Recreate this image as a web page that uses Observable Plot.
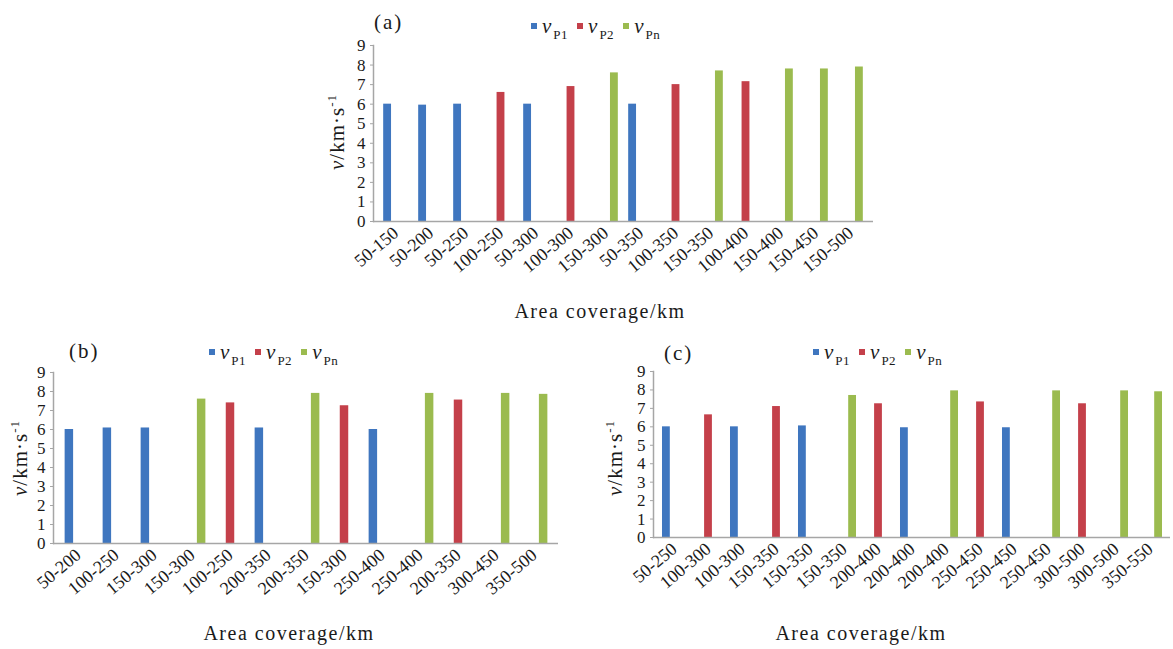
<!DOCTYPE html>
<html>
<head>
<meta charset="utf-8">
<script src="https://cdn.jsdelivr.net/npm/d3@7"></script>
<script src="https://cdn.jsdelivr.net/npm/@observablehq/plot@0.6"></script>
<style>
  html, body { margin: 0; padding: 0; background: #fff; }
  #root { position: relative; width: 1173px; height: 649px; overflow: hidden; background: #fff;
          font-family: "Liberation Serif", "DejaVu Serif", serif; color: #1a1a1a; }
  .abs { position: absolute; white-space: nowrap; line-height: 1; }
  .plot { position: absolute; }
  .plot svg { overflow: visible; }
  .ylab { font-size: 21px; letter-spacing: 1px; transform: translate(-50%, -50%) rotate(-90deg); }
  .xtitle { font-size: 20px; letter-spacing: 1.5px; transform: translate(-50%, -50%); }
  .letter { font-size: 21px; letter-spacing: 2px; }
  .legend { font-size: 21px; }
  .legend .item { display: inline-block; margin-right: 9px; }
  .legend .sw { display: inline-block; width: 6px; height: 6px; margin-right: 5px; vertical-align: 4px; }
  .legend sub { font-size: 13px; font-style: normal; vertical-align: -6px; margin-left: 2px; letter-spacing: 0.5px; }
</style>
</head>
<body>
<div id="root"></div>
<script>
// ---- data ----
const seriesNames = ["P1", "P2", "Pn"];
const seriesColors = ["#3f76bf", "#c4404a", "#9bbb4f"];
const yTicks = [0, 1, 2, 3, 4, 5, 6, 7, 8, 9];

// panel (a)
const aLabels = ["50-150", "50-200", "50-250", "100-250", "50-300", "100-300", "150-300", "50-350", "100-350", "150-350", "100-400", "150-400", "150-450", "150-500"];
const aSeries = ["P1", "P1", "P1", "P2", "P1", "P2", "Pn", "P1", "P2", "Pn", "P2", "Pn", "Pn", "Pn"];
const aValues = [6.0, 5.95, 6.0, 6.6, 6.0, 6.9, 7.6, 6.0, 7.0, 7.7, 7.15, 7.8, 7.8, 7.9];

// panel (b)
const bLabels = ["50-200", "100-250", "150-300", "150-300", "100-250", "200-350", "200-350", "150-300", "250-400", "250-400", "200-350", "300-450", "350-500"];
const bSeries = ["P1", "P1", "P1", "Pn", "P2", "P1", "Pn", "P2", "P1", "Pn", "P2", "Pn", "Pn"];
const bValues = [6.0, 6.08, 6.08, 7.6, 7.4, 6.08, 7.9, 7.25, 6.0, 7.9, 7.55, 7.9, 7.85];

// panel (c)
const cLabels = ["50-250", "100-300", "100-300", "150-350", "150-350", "150-350", "200-400", "200-400", "200-400", "250-450", "250-450", "250-450", "300-500", "300-500", "350-550"];
const cSeries = ["P1", "P2", "P1", "P2", "P1", "Pn", "P2", "P1", "Pn", "P2", "P1", "Pn", "P2", "Pn", "Pn"];
const cValues = [6.0, 6.65, 6.0, 7.1, 6.05, 7.7, 7.25, 5.95, 7.95, 7.35, 5.95, 7.95, 7.25, 7.95, 7.9];

const yLabelHTML = '<i>v</i>/km·s<sup style="font-size:13px">-1</sup>';
const xTitle = "Area coverage/km";

// ---- drawing ----
const root = document.getElementById("root");

function addDiv(cls, html, left, top) {
  const d = document.createElement("div");
  d.className = "abs " + cls;
  d.innerHTML = html;
  d.style.left = left + "px";
  d.style.top = top + "px";
  root.appendChild(d);
  return d;
}

function legendHTML() {
  return seriesNames.map((s, k) =>
    `<span class="item"><span class="sw" style="background:${seriesColors[k]}"></span><i>v</i><sub>${s}</sub></span>`
  ).join("");
}

function panel(cfg) {
  const {labels, series, values, left, top, width, height, mL, mR, mT, mB} = cfg;
  const n = labels.length;
  const data = labels.map((l, i) => ({i, label: l, s: series[i], v: values[i]}));
  const step = (width - mL - mR) / n;
  const bw = step * 0.24;
  const off = step * 0.235;
  const inset = (step - bw) / 2;
  const bars = seriesNames.map((s, k) =>
    Plot.barY(data.filter(d => d.s === s), {
      x: "i", y: "v", fill: seriesColors[k], dx: (k - 1) * off,
      insetLeft: inset, insetRight: inset
    })
  );
  const chart = Plot.plot({
    width, height,
    marginLeft: mL, marginRight: mR, marginTop: mT, marginBottom: mB,
    style: {fontFamily: "'Liberation Serif', serif", fontSize: "17px", color: "#1a1a1a", background: "transparent", overflow: "visible"},
    x: {domain: d3.range(n), padding: 0, axis: null},
    y: {domain: [0, 9], axis: null},
    marks: [
      ...bars,
      Plot.ruleY([0], {stroke: "#a6a6a6", strokeWidth: 1.5}),
      Plot.frame({anchor: "left", stroke: "#a6a6a6", strokeWidth: 1.5}),
      Plot.axisY({ticks: yTicks, tickSize: 3, tickPadding: 5, stroke: "#a6a6a6", fill: "#1a1a1a",
                  fontFamily: "Liberation Serif", fontSize: 17, label: null, tickFormat: d => String(d)}),
      Plot.axisX({tickFormat: i => labels[i], tickRotate: -40, tickSize: 0, tickPadding: 9, fill: "#1a1a1a",
                  fontFamily: "Liberation Serif", fontSize: 18, label: null})
    ]
  });
  const wrap = document.createElement("div");
  wrap.className = "plot";
  wrap.style.left = left + "px";
  wrap.style.top = top + "px";
  wrap.appendChild(chart);
  root.appendChild(wrap);
}

// panel (a)
panel({labels: aLabels, series: aSeries, values: aValues, left: 320, top: 0, width: 570, height: 300, mL: 53, mR: 17, mT: 45, mB: 79});
addDiv("letter", "(a)", 374, 12);
addDiv("legend", legendHTML(), 531, 16);
addDiv("ylab", yLabelHTML, 336, 132);
addDiv("xtitle", xTitle, 600, 311);

// panel (b)
panel({labels: bLabels, series: bSeries, values: bValues, left: 0, top: 330, width: 575, height: 300, mL: 53, mR: 17, mT: 42, mB: 87});
addDiv("letter", "(b)", 69, 341);
addDiv("legend", legendHTML(), 209, 342);
addDiv("ylab", yLabelHTML, 19, 458);
addDiv("xtitle", xTitle, 289, 633);

// panel (c)
panel({labels: cLabels, series: cSeries, values: cValues, left: 600, top: 330, width: 573, height: 300, mL: 53, mR: 3, mT: 41, mB: 93});
addDiv("letter", "(c)", 664, 343);
addDiv("legend", legendHTML(), 813, 342);
addDiv("ylab", yLabelHTML, 614, 458);
addDiv("xtitle", xTitle, 861, 633);
</script>
</body>
</html>
